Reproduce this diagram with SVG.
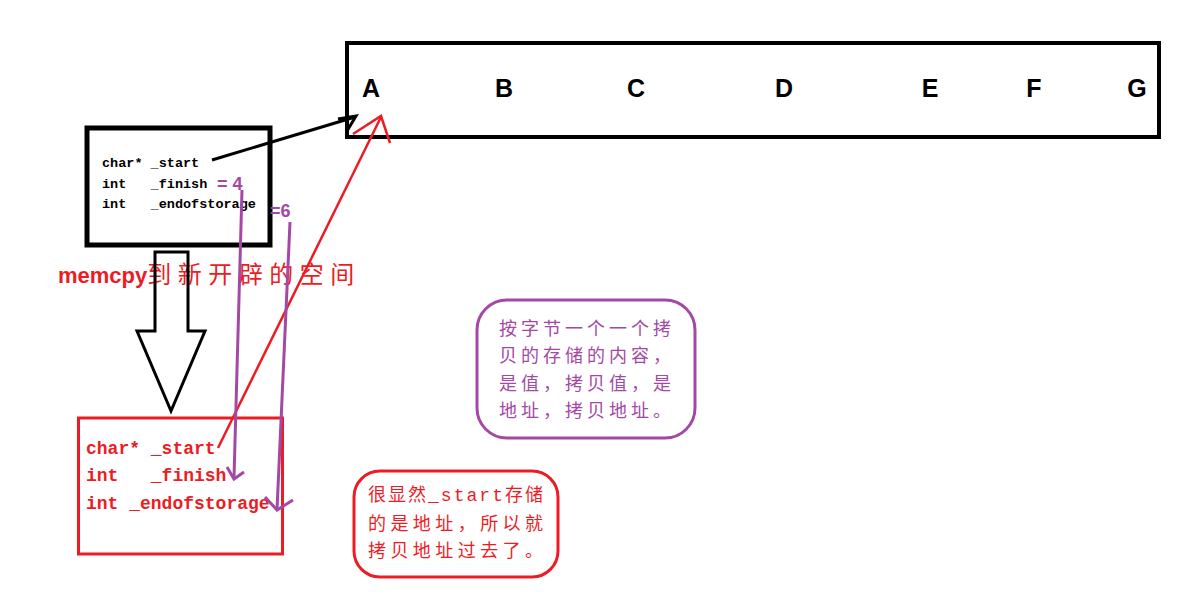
<svg xmlns="http://www.w3.org/2000/svg" width="1201" height="595" viewBox="0 0 1201 595">
<style>
.blk{fill:none;stroke:#000}
.letter{font-family:"Liberation Sans",Arial,sans-serif;font-weight:bold;font-size:25px;fill:#000;text-anchor:middle}
.mono{font-family:"Liberation Mono","Courier New",monospace;font-weight:bold;white-space:pre}
.cjk{font-family:"Noto Sans CJK SC",sans-serif}
.red{fill:#ED1C24}
.pur{fill:#A349A4}
</style>
<rect width="1201" height="595" fill="#fff"/>
<g id="array">
<rect x="347" y="43" width="812" height="94" class="blk" stroke-width="4"/>
<text x="371" y="97" class="letter">A</text>
<text x="504" y="97" class="letter">B</text>
<text x="636" y="97" class="letter">C</text>
<text x="784" y="97" class="letter">D</text>
<text x="930" y="97" class="letter">E</text>
<text x="1034" y="97" class="letter">F</text>
<text x="1137" y="97" class="letter">G</text>
</g>
<g id="old-vector">
<rect x="87" y="128" width="183" height="117" class="blk" stroke-width="5"/>
<text class="mono" font-size="13.5" x="102" y="167">char* _start</text>
<text class="mono" font-size="13.5" x="102" y="188">int   _finish</text>
<text class="mono" font-size="13.5" x="102" y="208">int   _endofstorage</text>
<text x="217" y="190" font-family="Liberation Sans,Arial,sans-serif" font-weight="bold" font-size="18" class="pur">= 4</text>
<text x="270" y="217" font-family="Liberation Sans,Arial,sans-serif" font-weight="bold" font-size="18" class="pur">=6</text>
</g>
<g id="memcpy-label">
<text x="58" y="283" font-size="22" class="red"><tspan font-family="Liberation Sans,Arial,sans-serif" font-weight="bold">memcpy</tspan><tspan class="cjk" font-size="24" letter-spacing="6.5">到新开辟的空间</tspan></text>
</g>
<g id="copy-arrow">
<polygon points="155,252 188,252 188,331 205,331 171,411 137,331 155,331" fill="none" stroke="#000" stroke-width="3" stroke-linejoin="miter"/>
</g>
<g id="new-vector">
<rect x="78.5" y="418" width="204" height="136" fill="none" stroke="#ED1C24" stroke-width="3"/>
<text class="mono red" font-size="18" x="86" y="454">char* _start</text>
<text class="mono red" font-size="18" x="86" y="481">int   _finish</text>
<text class="mono red" font-size="18" x="86" y="509">int _endofstorage</text>
</g>
<g id="note-purple">
<rect x="477" y="300" width="218" height="138" rx="30" ry="30" fill="none" stroke="#A349A4" stroke-width="3"/>
<g class="cjk pur" font-size="18">
<text x="499" y="335" textLength="172" lengthAdjust="spacing">按字节一个一个拷</text>
<text x="499" y="362" textLength="172" lengthAdjust="spacing">贝的存储的内容，</text>
<text x="499" y="390" textLength="172" lengthAdjust="spacing">是值，拷贝值，是</text>
<text x="499" y="417" textLength="172" lengthAdjust="spacing">地址，拷贝地址。</text>
</g>
</g>
<g id="note-red">
<rect x="354" y="471" width="204" height="106" rx="26" ry="26" fill="none" stroke="#ED1C24" stroke-width="3"/>
<g class="red" font-size="18">
<text x="368" y="501" class="cjk" textLength="175" lengthAdjust="spacing">很显然<tspan font-family="Liberation Mono,monospace">_start</tspan>存储</text>
<text x="368" y="530" class="cjk" textLength="175" lengthAdjust="spacing">的是地址，所以就</text>
<text x="368" y="557" class="cjk" textLength="175" lengthAdjust="spacing">拷贝地址过去了。</text>
</g>
</g>
<g id="connectors" fill="none">
<line x1="212" y1="160" x2="355" y2="117" stroke="#000" stroke-width="3"/>
<polyline points="338,119 356,116 347,131" stroke="#000" stroke-width="3"/>
<line x1="218" y1="448" x2="381" y2="117" stroke="#ED1C24" stroke-width="2.5"/>
<polyline points="353,134 381,116 390,143" stroke="#ED1C24" stroke-width="2.5"/>
<line x1="242" y1="190" x2="234" y2="478" stroke="#A349A4" stroke-width="3"/>
<polyline points="227,467 234,479 244,472" stroke="#A349A4" stroke-width="3"/>
<line x1="290" y1="222" x2="277" y2="510" stroke="#A349A4" stroke-width="3"/>
<polyline points="265,497 277,510 293,500" stroke="#A349A4" stroke-width="3"/>
</g>
</svg>
